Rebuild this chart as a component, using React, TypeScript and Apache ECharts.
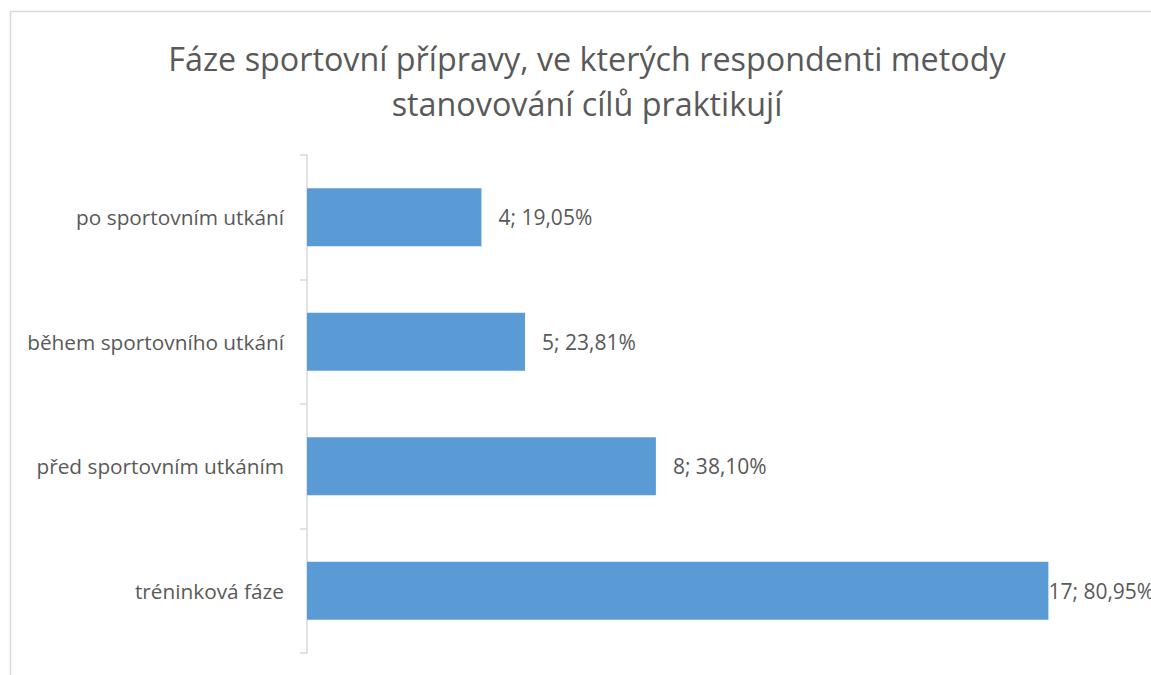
import React, { useEffect, useRef } from "react";
import * as echarts from "echarts";

const titleLines = [
  "Fáze sportovní přípravy, ve kterých respondenti metody",
  "stanovování cílů praktikují",
];
// bottom to top (ECharts category order)
const categories = [
  "tréninková fáze",
  "před sportovním utkáním",
  "během sportovního utkání",
  "po sportovním utkání",
];
const counts = [17, 8, 5, 4];
const percents = [80.95, 38.1, 23.81, 19.05];

const FONT = "'Open Sans', sans-serif";
const GREY = "#595959";

export default function App() {
  const ref = useRef<HTMLDivElement>(null);
  useEffect(() => {
    document.body.style.margin = "0";
    const chart = echarts.init(ref.current!, undefined, { renderer: "svg" });
    const fmt = (p: number) => p.toFixed(2).replace(".", ",") + "%";
    chart.setOption({
      animation: false,
      backgroundColor: "#ffffff",
      title: {
        text: titleLines.join("\n"),
        left: 582,
        top: 30,
        textAlign: "center",
        textStyle: {
          fontFamily: FONT,
          fontSize: 32.3,
          lineHeight: 45,
          fontWeight: "normal",
          color: GREY,
        },
      },
      graphic: [
        {
          type: "rect",
          shape: { x: 10.5, y: 11.5, width: 1300, height: 800 },
          style: { fill: "none", stroke: "#d9d9d9", lineWidth: 1.5 },
          silent: true,
          z: -1,
        },
      ],
      grid: { left: 307, top: 155, width: 785, height: 498, containLabel: false },
      xAxis: {
        type: "value",
        min: 0,
        max: 18,
        show: false,
      },
      yAxis: {
        type: "category",
        data: categories,
        axisLine: { show: true, lineStyle: { color: "#d9d9d9", width: 1.5 } },
        axisTick: { show: true, length: 7, lineStyle: { color: "#d9d9d9", width: 1.5 } },
        axisLabel: {
          margin: 23,
          fontFamily: FONT,
          fontSize: 20.8,
          color: GREY,
        },
        splitLine: { show: false },
      },
      series: [
        {
          type: "bar",
          barWidth: 58,
          itemStyle: { color: "#5b9bd5" },
          data: counts.map((c) => ({
            value: c,
            label: { distance: c === 17 ? 0 : 17 },
          })),
          label: {
            show: true,
            position: "right",
            fontFamily: FONT,
            fontSize: 21,
            color: GREY,
            formatter: (p: any) => `${counts[p.dataIndex]}; ${fmt(percents[p.dataIndex])}`,
          },
        },
      ],
    });
    return () => chart.dispose();
  }, []);
  return <div ref={ref} style={{ width: 1151, height: 675 }} />;
}
